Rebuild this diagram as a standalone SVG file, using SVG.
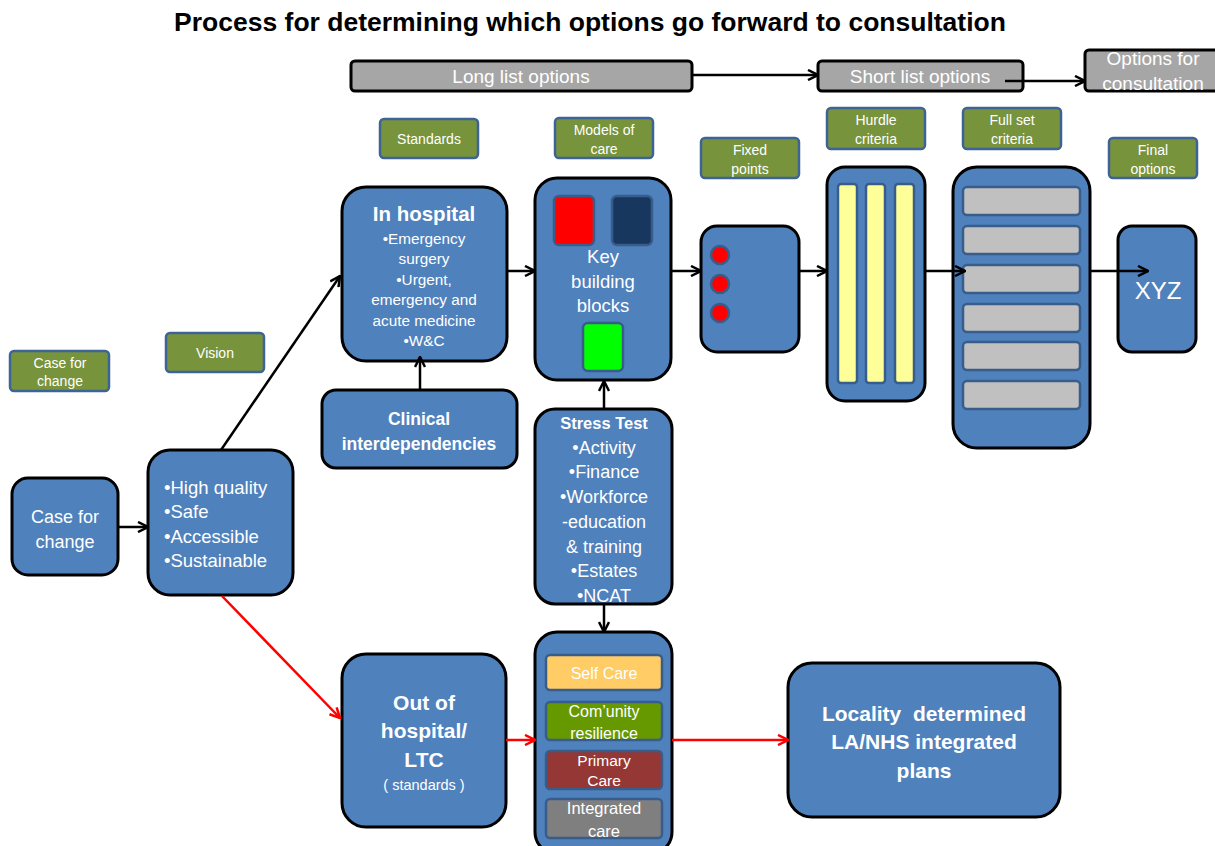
<svg xmlns="http://www.w3.org/2000/svg" width="1215" height="846" viewBox="0 0 1215 846">
<defs>
<style>
text{font-family:"Liberation Sans",Arial,sans-serif;fill:#fff;text-anchor:middle}
.title{fill:#000;font-weight:bold;font-size:26.5px}
.bar{fill:#a6a6a6;stroke:#000;stroke-width:3}
.bart{font-size:19px}
.lab{fill:#77933c;stroke:#3e6496;stroke-width:2.5}
.labt{font-size:14px}
.node{fill:#4f81bd;stroke:#000;stroke-width:3}
.inner{stroke:#385d8a;stroke-width:2.5}
.b{font-weight:bold}
.conn{fill:none;stroke:#000;stroke-width:2.5}
.red{fill:none;stroke:#ff0000;stroke-width:2.5}
</style>
<marker id="ah" viewBox="0 0 12 12" refX="11" refY="6" markerWidth="12" markerHeight="12" markerUnits="userSpaceOnUse" orient="auto">
<path d="M1,1 L11,6 L1,11" fill="none" stroke="#000" stroke-width="2.5"/>
</marker>
<marker id="ahr" viewBox="0 0 12 12" refX="11" refY="6" markerWidth="12" markerHeight="12" markerUnits="userSpaceOnUse" orient="auto">
<path d="M1,1 L11,6 L1,11" fill="none" stroke="#ff0000" stroke-width="2.5"/>
</marker>
</defs>
<rect width="1215" height="846" fill="#fff"/>
<text class="title" x="590" y="31">Process for determining which options go forward to consultation</text>

<g id="longlist"><rect class="bar" x="351" y="61" width="341" height="30" rx="4"/><text class="bart" x="521" y="83">Long list options</text></g>
<g id="shortlist"><rect class="bar" x="818" y="61" width="205" height="30" rx="4"/><text class="bart" x="920" y="83">Short list options</text></g>
<g id="optcons"><rect class="bar" x="1085" y="50" width="140" height="41" rx="4"/><text class="bart" x="1153" y="65">Options for</text><text class="bart" x="1153" y="90">consultation</text></g>

<g id="lab-case"><rect class="lab" x="10" y="351" width="99" height="40" rx="4"/><text class="labt" x="60" y="368">Case for</text><text class="labt" x="60" y="386">change</text></g>
<g id="lab-vision"><rect class="lab" x="166" y="333" width="98" height="39" rx="4"/><text class="labt" x="215" y="358">Vision</text></g>
<g id="lab-standards"><rect class="lab" x="380" y="119" width="98" height="39" rx="4"/><text class="labt" x="429" y="144">Standards</text></g>
<g id="lab-models"><rect class="lab" x="555" y="118" width="98" height="40" rx="4"/><text class="labt" x="604" y="135">Models of</text><text class="labt" x="604" y="154">care</text></g>
<g id="lab-fixed"><rect class="lab" x="701" y="138" width="98" height="40" rx="4"/><text class="labt" x="750" y="155">Fixed</text><text class="labt" x="750" y="174">points</text></g>
<g id="lab-hurdle"><rect class="lab" x="827" y="108" width="98" height="41" rx="4"/><text class="labt" x="876" y="125">Hurdle</text><text class="labt" x="876" y="144">criteria</text></g>
<g id="lab-fullset"><rect class="lab" x="963" y="108" width="98" height="41" rx="4"/><text class="labt" x="1012" y="125">Full set</text><text class="labt" x="1012" y="144">criteria</text></g>
<g id="lab-final"><rect class="lab" x="1109" y="138" width="88" height="40" rx="4"/><text class="labt" x="1153" y="155">Final</text><text class="labt" x="1153" y="174">options</text></g>

<g id="n-case"><rect class="node" x="12" y="478" width="106" height="97" rx="16"/><text x="65" y="523" font-size="18">Case for</text><text x="65" y="548" font-size="18">change</text></g>
<g id="n-vision"><rect class="node" x="148" y="450" width="145" height="145" rx="22"/>
<g font-size="18.5"><text x="164" y="494" style="text-anchor:start">•High quality</text><text x="164" y="518" style="text-anchor:start">•Safe</text><text x="164" y="543" style="text-anchor:start">•Accessible</text><text x="164" y="567" style="text-anchor:start">•Sustainable</text></g></g>
<g id="n-inhospital"><rect class="node" x="342" y="187" width="165" height="174" rx="24"/>
<text class="b" x="424" y="221" font-size="20.5">In hospital</text>
<g font-size="15.3"><text x="424" y="244">•Emergency</text><text x="424" y="264">surgery</text><text x="424" y="285">•Urgent,</text><text x="424" y="305">emergency and</text><text x="424" y="326">acute medicine</text><text x="424" y="346">•W&amp;C</text></g></g>
<g id="n-models"><rect class="node" x="535" y="178" width="136" height="202" rx="22"/>
<rect class="inner" x="554" y="196" width="40" height="49" rx="5" fill="#ff0000"/>
<rect class="inner" x="612" y="196" width="40" height="49" rx="5" fill="#17375e"/>
<rect class="inner" x="583" y="323" width="40" height="48" rx="5" fill="#00ff00"/>
<g font-size="18.5"><text x="603" y="263">Key</text><text x="603" y="288">building</text><text x="603" y="312">blocks</text></g></g>
<g id="n-clinical"><rect class="node" x="322" y="390" width="195" height="78" rx="14"/><g font-size="17.5"><text class="b" x="419" y="425">Clinical</text><text class="b" x="419" y="450">interdependencies</text></g></g>
<g id="n-stress"><rect class="node" x="535" y="409" width="137" height="195" rx="20"/>
<text class="b" x="604" y="429" font-size="16.5">Stress Test</text>
<g font-size="18"><text x="604" y="454">•Activity</text><text x="604" y="478">•Finance</text><text x="604" y="503">•Workforce</text><text x="604" y="528">-education</text><text x="604" y="553">&amp; training</text><text x="604" y="577">•Estates</text><text x="604" y="602">•NCAT</text></g></g>
<g id="n-fixed"><rect class="node" x="701" y="226" width="98" height="126" rx="16"/>
<g fill="#ff0000" stroke="#385d8a" stroke-width="2.5"><circle cx="720" cy="255" r="9"/><circle cx="720" cy="284" r="9"/><circle cx="720" cy="313" r="9"/></g></g>
<g id="n-hurdle"><rect class="node" x="827" y="167" width="98" height="234" rx="18"/>
<g fill="#ffff99" stroke="#385d8a" stroke-width="2.5"><rect x="838" y="184" width="19" height="199" rx="3"/><rect x="866" y="184" width="19" height="199" rx="3"/><rect x="895" y="184" width="19" height="199" rx="3"/></g></g>
<g id="n-fullset"><rect class="node" x="953" y="167" width="137" height="281" rx="24"/>
<g fill="#c0c0c0" stroke="#385d8a" stroke-width="2.5"><rect x="963" y="187" width="117" height="28" rx="4"/><rect x="963" y="226" width="117" height="28" rx="4"/><rect x="963" y="265" width="117" height="28" rx="4"/><rect x="963" y="304" width="117" height="28" rx="4"/><rect x="963" y="342" width="117" height="28" rx="4"/><rect x="963" y="381" width="117" height="28" rx="4"/></g></g>
<g id="n-xyz"><rect class="node" x="1118" y="226" width="78" height="126" rx="14"/><text x="1158" y="299" font-size="24">XYZ</text></g>
<g id="n-outhosp"><rect class="node" x="342" y="654" width="164" height="173" rx="24"/>
<g font-size="21"><text class="b" x="424" y="710">Out of</text><text class="b" x="424" y="738">hospital/</text><text class="b" x="424" y="767">LTC</text></g><text x="424" y="790" font-size="14.5">( standards )</text></g>
<g id="n-care"><rect class="node" x="535" y="632" width="137" height="222" rx="22"/>
<rect class="inner" x="546" y="655" width="116" height="35" rx="4" fill="#ffcc66"/><text x="604" y="679" font-size="16">Self Care</text>
<rect class="inner" x="546" y="702" width="116" height="38" rx="4" fill="#669900"/><text x="604" y="717" font-size="16">Com’unity</text><text x="604" y="739" font-size="16">resilience</text>
<rect class="inner" x="546" y="751" width="116" height="38" rx="4" fill="#953735"/><text x="604" y="766" font-size="15.5">Primary</text><text x="604" y="786" font-size="15.5">Care</text>
<rect class="inner" x="546" y="799" width="116" height="39" rx="4" fill="#7f7f7f"/><text x="604" y="814" font-size="16.5">Integrated</text><text x="604" y="837" font-size="16.5">care</text></g>
<g id="n-locality"><rect class="node" x="788" y="663" width="272" height="154" rx="24"/>
<g font-size="21"><text class="b" x="924" y="721">Locality&#160; determined</text><text class="b" x="924" y="749">LA/NHS integrated</text><text class="b" x="924" y="778">plans</text></g></g>

<g id="connectors">
<line class="conn" x1="692" y1="75" x2="818" y2="75" marker-end="url(#ah)"/>
<line class="conn" x1="1005" y1="81" x2="1085" y2="81" marker-end="url(#ah)"/>
<line class="conn" x1="118" y1="527" x2="148" y2="527" marker-end="url(#ah)"/>
<line class="conn" x1="221" y1="450" x2="340" y2="276" marker-end="url(#ah)"/>
<line class="conn" x1="507" y1="271" x2="535" y2="271" marker-end="url(#ah)"/>
<line class="conn" x1="671" y1="271" x2="701" y2="271" marker-end="url(#ah)"/>
<line class="conn" x1="799" y1="271" x2="827" y2="271" marker-end="url(#ah)"/>
<line class="conn" x1="925" y1="271" x2="965" y2="271" marker-end="url(#ah)"/>
<line class="conn" x1="1090" y1="271" x2="1148" y2="271" marker-end="url(#ah)"/>
<line class="conn" x1="420" y1="390" x2="420" y2="357" marker-end="url(#ah)"/>
<line class="conn" x1="604" y1="409" x2="604" y2="381" marker-end="url(#ah)"/>
<line class="conn" x1="604" y1="604" x2="604" y2="632" marker-end="url(#ah)"/>
<line class="red" x1="222" y1="596" x2="340" y2="718" marker-end="url(#ahr)"/>
<line class="red" x1="506" y1="740" x2="535" y2="740" marker-end="url(#ahr)"/>
<line class="red" x1="672" y1="740" x2="788" y2="740" marker-end="url(#ahr)"/>
</g>
</svg>
